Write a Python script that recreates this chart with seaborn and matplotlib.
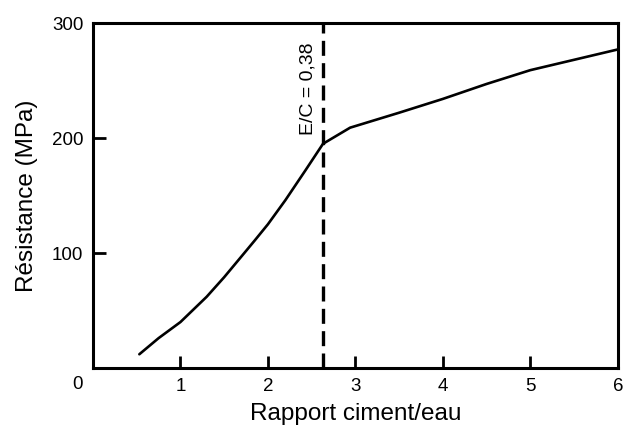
import numpy as np
import pandas as pd
import matplotlib
matplotlib.use("Agg")
import matplotlib.pyplot as plt
import seaborn as sns

# values
ciment_eau = [0.53, 0.75, 1.0, 1.15, 1.3, 1.5, 1.73, 1.85, 2.0, 2.2, 2.43, 2.63,
              2.94, 3.5, 4.0, 4.5, 5.0, 5.5, 6.0]
resistance = [12, 26, 40, 51, 62, 79, 100, 111, 125, 146, 172, 195,
              209, 222, 234, 247, 259, 268, 277]
ec_critique = 0.38
x_ticks = [1, 2, 3, 4, 5, 6]
y_ticks = [100, 200, 300]

df = pd.DataFrame({"ce": ciment_eau, "res": resistance})

sns.set_style("ticks")
plt.rcParams["font.family"] = ["Liberation Sans", "DejaVu Sans"]
plt.rcParams.update({
    "text.color": "black",
    "axes.labelcolor": "black",
    "xtick.color": "black",
    "ytick.color": "black",
})

fig = plt.figure(figsize=(6.24, 4.26), dpi=100)
ax = fig.add_axes([0.149, 0.136, 0.841, 0.81])

sns.lineplot(data=df, x="ce", y="res", color="black", linewidth=1.9, ax=ax)
for ln in ax.get_lines():
    ln.set_solid_joinstyle("round")

x_crit = 1 / ec_critique
ax.axvline(x_crit, color="black", linewidth=2.4, linestyle=(0, (4.5, 2.2)))
ax.text(x_crit - 0.17, 283, "E/C = 0,38", rotation=90, ha="center", va="top",
        fontsize=14)

ax.set_xlim(0, 6)
ax.set_ylim(0, 300)
ax.set_xticks(x_ticks)
ax.set_yticks(y_ticks)
ax.tick_params(direction="in", length=9, width=2, labelsize=13.5, pad=7,
               color="black", labelcolor="black")
for s in ax.spines.values():
    s.set_linewidth(2.2)
    s.set_color("black")
    s.set_visible(True)

# shared origin label in the corner
ax.text(-0.18, -14, "0", ha="center", va="center", fontsize=13.5,
        transform=ax.transData, clip_on=False)

ax.set_xlabel("Rapport ciment/eau", fontsize=17.5, labelpad=6)
ax.set_ylabel("Résistance (MPa)", fontsize=17.5, labelpad=10)

fig.savefig("out.png", dpi=100, facecolor="white")
